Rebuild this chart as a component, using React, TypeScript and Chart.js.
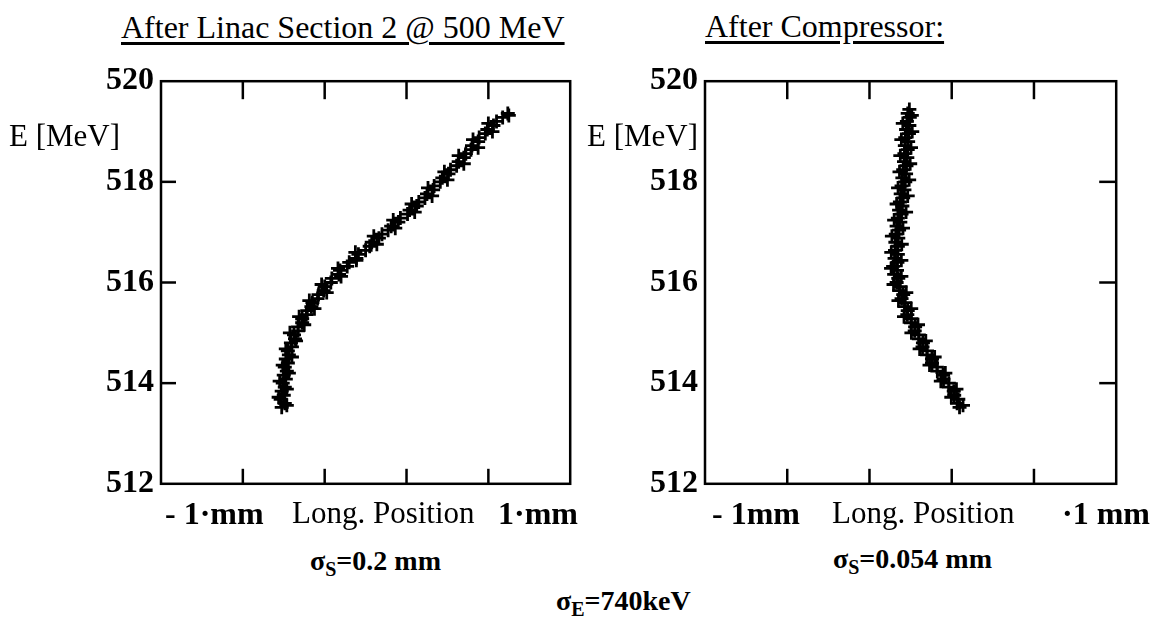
import React, { useEffect, useRef } from "react";
import { Chart, registerables } from "chart.js";

Chart.register(...registerables);

// ---------- data ----------
const energyTicks = [512, 514, 516, 518, 520];
const leftPosTicks = [-0.6, -0.2, 0.2, 0.6];
const rightPosTicks = [-0.06, -0.02, 0.02, 0.06];

// After Linac Section 2 @ 500 MeV : longitudinal position [mm], energy [MeV]
const leftPos = [
  -0.41, -0.395, -0.415, -0.4, -0.41, -0.395, -0.405, -0.39, -0.4, -0.385,
  -0.395, -0.38, -0.39, -0.375, -0.38, -0.36, -0.365, -0.345, -0.35, -0.33,
  -0.33, -0.31, -0.31, -0.29, -0.285, -0.265, -0.26, -0.235, -0.23, -0.205,
  -0.2, -0.17, -0.165, -0.13, -0.125, -0.09, -0.08, -0.045, -0.035, 0.0,
  0.02, 0.03, 0.065, 0.08, 0.11, 0.125, 0.16, 0.17, 0.205, 0.215,
  0.25, 0.26, 0.29, 0.3, 0.33, 0.335, 0.365, 0.375, 0.405, 0.415,
  0.445, 0.455, 0.48, 0.49, 0.515, 0.52, 0.55, 0.555, 0.585, 0.595,
  0.625, 0.64, 0.67, 0.695,
  -0.385, -0.425, -0.385, -0.42, -0.375, -0.405, -0.36, -0.39, -0.34, -0.37,
  -0.3, -0.325, -0.25, -0.275, -0.19, -0.215, -0.12, -0.135, -0.045, -0.05,
  0.055, 0.04, 0.145, 0.135, 0.24, 0.225, 0.325, 0.305, 0.4, 0.385,
  0.48, 0.455, 0.55, 0.525, 0.62, 0.6, 0.7,
];
const leftE = [
  513.52, 513.6, 513.68, 513.76, 513.84, 513.92, 514.0, 514.08, 514.16, 514.24,
  514.32, 514.4, 514.48, 514.56, 514.64, 514.72, 514.8, 514.88, 514.96, 515.04,
  515.12, 515.2, 515.28, 515.36, 515.44, 515.52, 515.6, 515.68, 515.76, 515.84,
  515.92, 516.0, 516.08, 516.16, 516.24, 516.32, 516.4, 516.48, 516.56, 516.64,
  516.72, 516.8, 516.88, 516.96, 517.04, 517.12, 517.2, 517.28, 517.36, 517.44,
  517.52, 517.6, 517.68, 517.76, 517.84, 517.92, 518.0, 518.08, 518.16, 518.24,
  518.32, 518.4, 518.48, 518.56, 518.64, 518.72, 518.8, 518.88, 518.96, 519.04,
  519.12, 519.2, 519.28, 519.36,
  513.56, 513.72, 513.88, 514.04, 514.2, 514.36, 514.52, 514.68, 514.84, 515.0,
  515.16, 515.32, 515.48, 515.64, 515.8, 515.96, 516.12, 516.28, 516.44, 516.6,
  516.76, 516.92, 517.08, 517.24, 517.4, 517.56, 517.72, 517.88, 518.04, 518.2,
  518.36, 518.52, 518.68, 518.84, 519.0, 519.16, 519.32,
];

// After Compressor : longitudinal position [mm], energy [MeV]
const rightPos = [
  0.0238, 0.0226, 0.0232, 0.0212, 0.021, 0.0186, 0.0186, 0.016, 0.0158, 0.013,
  0.0128, 0.0104, 0.0104, 0.008, 0.008, 0.0058, 0.006, 0.004, 0.004, 0.002,
  0.0022, 0.0002, 0.0004, -0.0016, -0.0014, -0.003, -0.0026, -0.0044, -0.0036, -0.0055,
  -0.005, -0.0068, -0.006, -0.008, -0.0066, -0.0085, -0.0064, -0.0078, -0.0062, -0.0076,
  -0.0062, -0.0074, -0.006, -0.0072, -0.0056, -0.0068, -0.005, -0.0062, -0.0044, -0.0056,
  -0.004, -0.0052, -0.0036, -0.0048, -0.003, -0.0044, -0.0026, -0.004, -0.0022, -0.0036,
  -0.002, -0.0032, -0.0016, -0.003, -0.0014, -0.0028, -0.0012, -0.0026, -0.0008, -0.0022,
  -0.0006, -0.0018, -0.0004, -0.0014, -0.0006,
  0.0255, 0.0198, 0.0223, 0.0147, 0.0169, 0.0092, 0.0117, 0.0044, 0.0074, 0.0004,
  0.0036, -0.0032, 0.0003, -0.0059, -0.0021, -0.0083, -0.0045, -0.0095, -0.0045, -0.0094,
  -0.0043, -0.0091, -0.0037, -0.008, -0.0022, -0.0068, -0.0014, -0.0061, -0.0007, -0.0054,
  -0.0002, -0.005, 0.0002, -0.0045, 0.0008, -0.0038, 0.0006,
];
const rightE = [
  513.52, 513.6, 513.68, 513.76, 513.84, 513.92, 514.0, 514.08, 514.16, 514.24,
  514.32, 514.4, 514.48, 514.56, 514.64, 514.72, 514.8, 514.88, 514.96, 515.04,
  515.12, 515.2, 515.28, 515.36, 515.44, 515.52, 515.6, 515.68, 515.76, 515.84,
  515.92, 516.0, 516.08, 516.16, 516.24, 516.32, 516.4, 516.48, 516.56, 516.64,
  516.72, 516.8, 516.88, 516.96, 517.04, 517.12, 517.2, 517.28, 517.36, 517.44,
  517.52, 517.6, 517.68, 517.76, 517.84, 517.92, 518.0, 518.08, 518.16, 518.24,
  518.32, 518.4, 518.48, 518.56, 518.64, 518.72, 518.8, 518.88, 518.96, 519.04,
  519.12, 519.2, 519.28, 519.36, 519.44,
  513.56, 513.72, 513.88, 514.04, 514.2, 514.36, 514.52, 514.68, 514.84, 515.0,
  515.16, 515.32, 515.48, 515.64, 515.8, 515.96, 516.12, 516.28, 516.44, 516.6,
  516.76, 516.92, 517.08, 517.24, 517.4, 517.56, 517.72, 517.88, 518.04, 518.2,
  518.36, 518.52, 518.68, 518.84, 519.0, 519.16, 519.32,
];

const SERIF = '"Liberation Serif", "Times New Roman", serif';

// ---------- frame + inward ticks plugin ----------
const framePlugin = {
  id: "frame",
  afterDatasetsDraw(chart: any, _args: any, opts: any) {
    const { ctx, chartArea: a, scales } = chart;
    const xs = scales.x;
    const ys = scales.y;
    ctx.save();
    ctx.strokeStyle = "#000";
    ctx.lineWidth = 2.5;
    ctx.lineCap = "butt";
    ctx.strokeRect(a.left, a.top, a.right - a.left, a.bottom - a.top);
    const seg = (x1: number, y1: number, x2: number, y2: number) => {
      ctx.beginPath();
      ctx.moveTo(x1, y1);
      ctx.lineTo(x2, y2);
      ctx.stroke();
    };
    for (const v of opts.xTicks as number[]) {
      const px = xs.getPixelForValue(v);
      seg(px, a.top, px, a.top + 18);
      seg(px, a.bottom, px, a.bottom - 15);
    }
    for (const v of energyTicks.slice(1, -1)) {
      const py = ys.getPixelForValue(v);
      if (opts.side === "left") seg(a.left, py, a.left + 15, py);
      else seg(a.right, py, a.right - 17, py);
    }
    ctx.restore();
  },
};

function makeConfig(pos: number[], e: number[], min: number, max: number, xTicks: number[], side: string, padTop: number) {
  return {
    type: "scatter" as const,
    data: {
      datasets: [
        {
          data: pos.map((p, i) => ({ x: p, y: e[i] })),
          pointStyle: "cross",
          pointRadius: 7,
          borderColor: "#000",
          backgroundColor: "#000",
          borderWidth: 2.8,
          showLine: false,
        },
      ],
    },
    options: {
      responsive: false,
      animation: false as const,
      events: [],
      layout: { padding: { top: padTop, bottom: 23, left: 0, right: 8 } },
      plugins: {
        legend: { display: false },
        tooltip: { enabled: false },
        frame: { xTicks, side },
      },
      scales: {
        x: { type: "linear" as const, min, max, display: false },
        y: {
          type: "linear" as const,
          min: 512,
          max: 520,
          afterBuildTicks: (scale: any) => {
            scale.ticks = energyTicks.map((v) => ({ value: v }));
          },
          afterFit: (scale: any) => {
            scale.width = 71;
          },
          grid: { display: false, drawTicks: false },
          border: { display: false },
          ticks: {
            color: "#000",
            padding: 7,
            font: { family: SERIF, size: 32, weight: "bold" as const },
            callback: (v: any) => String(v),
          },
        },
      },
    },
    plugins: [framePlugin],
  };
}

function Panel(props: { left: number; top: number; width: number; height: number; cfg: any }) {
  const ref = useRef<HTMLCanvasElement>(null);
  useEffect(() => {
    if (!ref.current) return;
    const chart = new Chart(ref.current, props.cfg);
    return () => chart.destroy();
  }, []);
  return (
    <canvas
      ref={ref}
      width={props.width}
      height={props.height}
      style={{ position: "absolute", left: props.left, top: props.top, width: props.width, height: props.height }}
    />
  );
}

const txt = (style: React.CSSProperties): React.CSSProperties => ({
  position: "absolute",
  fontFamily: SERIF,
  fontSize: 31,
  lineHeight: 1,
  whiteSpace: "nowrap",
  color: "#000",
  ...style,
});

const sigma: React.CSSProperties = { fontSize: 28, fontWeight: "bold" };
const sub: React.CSSProperties = { fontSize: 20, verticalAlign: -6 };

export default function App() {
  const leftCfg = makeConfig(leftPos, leftE, -1, 1, leftPosTicks, "left", 26);
  const rightCfg = makeConfig(rightPos, rightE, -0.1, 0.1, rightPosTicks, "right", 24);
  return (
    <div style={{ position: "absolute", left: 0, top: 0, width: 1157, height: 621, background: "#fff", overflow: "hidden" }}>
      <Panel left={90} top={55} width={490} height={455} cfg={leftCfg} />
      <Panel left={634} top={55} width={492} height={455} cfg={rightCfg} />

      <div style={txt({ left: 121, top: 11, fontSize: 32, textDecoration: "underline", textUnderlineOffset: 4 })}>
        After Linac Section 2 @ 500 MeV
      </div>
      <div style={txt({ left: 705, top: 10, fontSize: 32, textDecoration: "underline", textUnderlineOffset: 4 })}>
        After Compressor:
      </div>

      <div style={txt({ left: 0, width: 120, textAlign: "right", top: 120, fontSize: 31 })}>E [MeV]</div>
      <div style={txt({ left: 580, width: 118, textAlign: "right", top: 120, fontSize: 31 })}>E [MeV]</div>

      <div style={txt({ left: 165, top: 497, fontSize: 32, fontWeight: "bold" })}>- 1·mm</div>
      <div style={txt({ left: 292, top: 497 })}>Long. Position</div>
      <div style={txt({ left: 498, top: 497, fontSize: 32, fontWeight: "bold" })}>1·mm</div>

      <div style={txt({ left: 712, top: 497, fontSize: 32, fontWeight: "bold" })}>- 1mm</div>
      <div style={txt({ left: 832, top: 497 })}>Long. Position</div>
      <div style={txt({ left: 1062, top: 497, fontSize: 32, fontWeight: "bold" })}>·1 mm</div>

      <div style={txt({ left: 310, top: 547, ...sigma })}>
        σ<sub style={sub}>S</sub>=0.2 mm
      </div>
      <div style={txt({ left: 833, top: 545, ...sigma })}>
        σ<sub style={sub}>S</sub>=0.054 mm
      </div>
      <div style={txt({ left: 556, top: 587, ...sigma })}>
        σ<sub style={sub}>E</sub>=740keV
      </div>
    </div>
  );
}
